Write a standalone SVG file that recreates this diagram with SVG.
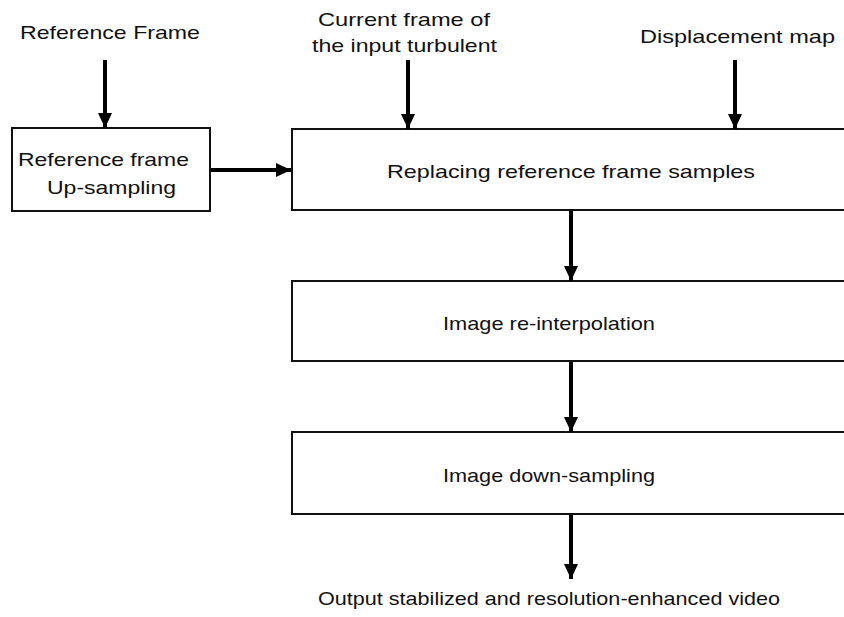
<svg xmlns="http://www.w3.org/2000/svg" width="844" height="617" viewBox="0 0 844 617">
  <defs>
    <marker id="head" viewBox="0 0 15 14" refX="15" refY="7" markerWidth="15" markerHeight="14" markerUnits="userSpaceOnUse" orient="auto">
      <path d="M0,0 L15,7 L0,14 Z" fill="#000"/>
    </marker>
    <style>
      .box { fill: #fff; stroke: #111; stroke-width: 2; }
      .lbl { font-family: "Liberation Sans", Arial, sans-serif; font-size: 19px; fill: #111; }
      .conn { stroke: #000; stroke-width: 4; fill: none; marker-end: url(#head); }
    </style>
  </defs>
  <rect width="844" height="617" fill="#fff"/>

  <!-- input labels -->
  <g id="in-reference">
    <text class="lbl" x="20" y="39" textLength="180" lengthAdjust="spacingAndGlyphs">Reference Frame</text>
  </g>
  <g id="in-current">
    <text class="lbl" x="318" y="26" textLength="172" lengthAdjust="spacingAndGlyphs">Current frame of</text>
    <text class="lbl" x="312" y="52" textLength="185" lengthAdjust="spacingAndGlyphs">the input turbulent</text>
  </g>
  <g id="in-displacement">
    <text class="lbl" x="640" y="43" textLength="195" lengthAdjust="spacingAndGlyphs">Displacement map</text>
  </g>

  <!-- processing blocks -->
  <g id="upsample">
    <rect class="box" x="12" y="128" width="198" height="83"/>
    <text class="lbl" x="18" y="166" textLength="171" lengthAdjust="spacingAndGlyphs">Reference frame</text>
    <text class="lbl" x="47" y="194" textLength="129" lengthAdjust="spacingAndGlyphs">Up-sampling</text>
  </g>
  <g id="replace">
    <rect class="box" x="292" y="129" width="580" height="81"/>
    <text class="lbl" x="387" y="178" textLength="368" lengthAdjust="spacingAndGlyphs">Replacing reference frame samples</text>
  </g>
  <g id="reinterp">
    <rect class="box" x="292" y="281" width="580" height="80"/>
    <text class="lbl" x="443" y="330" textLength="212" lengthAdjust="spacingAndGlyphs">Image re-interpolation</text>
  </g>
  <g id="downsample">
    <rect class="box" x="292" y="432" width="580" height="82"/>
    <text class="lbl" x="443" y="482" textLength="212" lengthAdjust="spacingAndGlyphs">Image down-sampling</text>
  </g>
  <g id="output">
    <text class="lbl" x="318" y="605" textLength="462" lengthAdjust="spacingAndGlyphs">Output stabilized and resolution-enhanced video</text>
  </g>

  <!-- connectors -->
  <g id="connectors">
    <line class="conn" x1="105" y1="60" x2="105" y2="128"/>
    <line class="conn" x1="408" y1="60" x2="408" y2="129"/>
    <line class="conn" x1="735" y1="60" x2="735" y2="129"/>
    <line class="conn" x1="211" y1="170" x2="291" y2="170"/>
    <line class="conn" x1="571" y1="211" x2="571" y2="281"/>
    <line class="conn" x1="571" y1="362" x2="571" y2="432"/>
    <line class="conn" x1="571" y1="515" x2="571" y2="579"/>
  </g>
</svg>
